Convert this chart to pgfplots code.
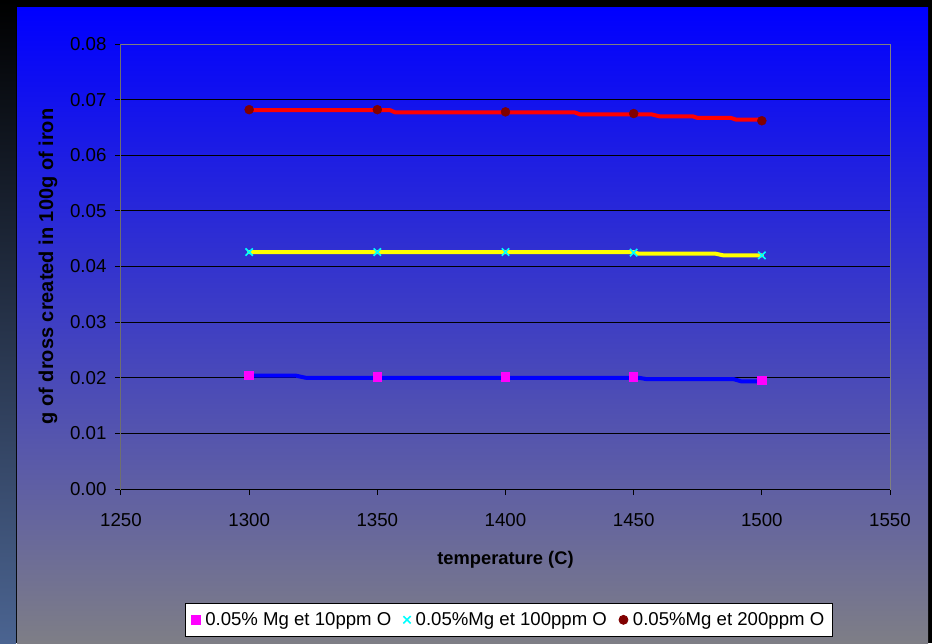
\documentclass[border=0pt]{standalone}
\usepackage{fontspec}
\setmainfont{Liberation Sans}
\usepackage{pgfplots}
\pgfplotsset{compat=1.18}
\definecolor{panelTop}{RGB}{0,0,255}
\definecolor{panelBot}{RGB}{126,126,134}
\definecolor{stripBot}{RGB}{75,100,145}
\definecolor{frameGray}{RGB}{128,128,128}
\definecolor{darkRed}{RGB}{128,0,0}
\definecolor{mag}{RGB}{255,0,255}
\definecolor{cyn}{RGB}{0,255,255}
\definecolor{yel}{RGB}{255,255,0}
\definecolor{blu}{RGB}{0,0,255}
\definecolor{rd}{RGB}{255,0,0}
\begin{document}
\begin{tikzpicture}[x=1pt,y=1pt]
\fill[black] (0,0) rectangle (932,643);
\shade[top color=black, bottom color=stripBot] (0,0) rectangle (16,643);
\shade[top color=panelTop, bottom color=panelBot] (17,0) rectangle (928,635);
\begin{axis}[
  at={(121pt,154pt)}, anchor=south west,
  scale only axis, width=769pt, height=445pt,
  xmin=1250, xmax=1550, ymin=0, ymax=0.08,
  xtick={1250,1300,1350,1400,1450,1500,1550},
  ytick={0,0.01,0.02,0.03,0.04,0.05,0.06,0.07,0.08},
  ymajorgrids, grid style={black, line width=1pt},
  axis line style={draw=frameGray, line width=1pt},
  tick style={black, line width=1pt},
  tick align=outside, major tick length=6pt,
  xtick pos=bottom, ytick pos=left,
  scaled y ticks=false,
  /pgf/number format/assume math mode=true,
  yticklabel style={/pgf/number format/fixed, /pgf/number format/fixed zerofill, /pgf/number format/precision=2, xshift=-5pt},
  xticklabel style={/pgf/number format/1000 sep={}, yshift=-15pt},
  ticklabel style={font=\fontsize{18.7}{22}\selectfont},
  xlabel={temperature (C)}, ylabel={g of dross created in 100g of iron},
  xlabel style={font=\bfseries\fontsize{18.3}{22}\selectfont, at={(axis description cs:0.5,-0.16)}, anchor=center},
  ylabel style={font=\bfseries\fontsize{20}{24}\selectfont, at={(axis description cs:-0.095,0.5)}, anchor=center},
  legend columns=3,
  legend style={at={(0.5045,-0.294)}, anchor=center, draw=black, fill=white,
    font=\fontsize{18.6}{22}\selectfont, line width=0.8pt,
    /tikz/every even column/.append style={column sep=10pt},
    /tikz/every odd column/.append style={column sep=3pt},
    inner xsep=6pt, inner ysep=7pt},
]
\addplot[only marks, mark=square*, mark size=4.3pt, color=mag, mark options={fill=mag, draw=mag, line width=0pt}]
  coordinates {(1300,0.0204) (1350,0.0201) (1400,0.0201) (1450,0.0201) (1500,0.0195)};
\addlegendentry{0.05\% Mg et 10ppm O}
\addplot[only marks, mark=x, mark size=5.2pt, color=cyn, mark options={line width=1.6pt}]
  coordinates {(1300,0.0426) (1350,0.0426) (1400,0.0426) (1450,0.0425) (1500,0.0420)};
\addlegendentry{0.05\%Mg et 100ppm O}
\addplot[only marks, mark=*, mark size=4.5pt, color=darkRed, mark options={fill=darkRed, draw=darkRed}]
  coordinates {(1300,0.0682) (1350,0.0682) (1400,0.0678) (1450,0.0675) (1500,0.0662)};
\addlegendentry{0.05\%Mg et 200ppm O}
% lines
\addplot[forget plot, color=blu, line width=4pt, line cap=round, line join=round]
  coordinates {(1300,0.0204) (1318,0.0204) (1322,0.0200) (1452,0.0200) (1455,0.01975) (1489,0.01975) (1492,0.01935) (1500,0.01935)};
\addplot[forget plot, color=yel, line width=4pt, line cap=round, line join=round]
  coordinates {(1300,0.0426) (1450,0.0426) (1452,0.0423) (1482,0.0423) (1485,0.0420) (1500,0.0420)};
\addplot[forget plot, color=rd, line width=4pt, line cap=round, line join=round]
  coordinates {(1300,0.0681) (1355,0.0681) (1357,0.0677) (1427,0.0677) (1429,0.06735) (1457,0.06735) (1460,0.0670) (1473,0.0670) (1475,0.0667) (1488,0.0667) (1490,0.0664) (1500,0.0664)};
\draw[black, line width=1pt] (rel axis cs:0,1) -- (rel axis cs:0,0) -- (rel axis cs:1,0);
\end{axis}
\end{tikzpicture}
\end{document}
